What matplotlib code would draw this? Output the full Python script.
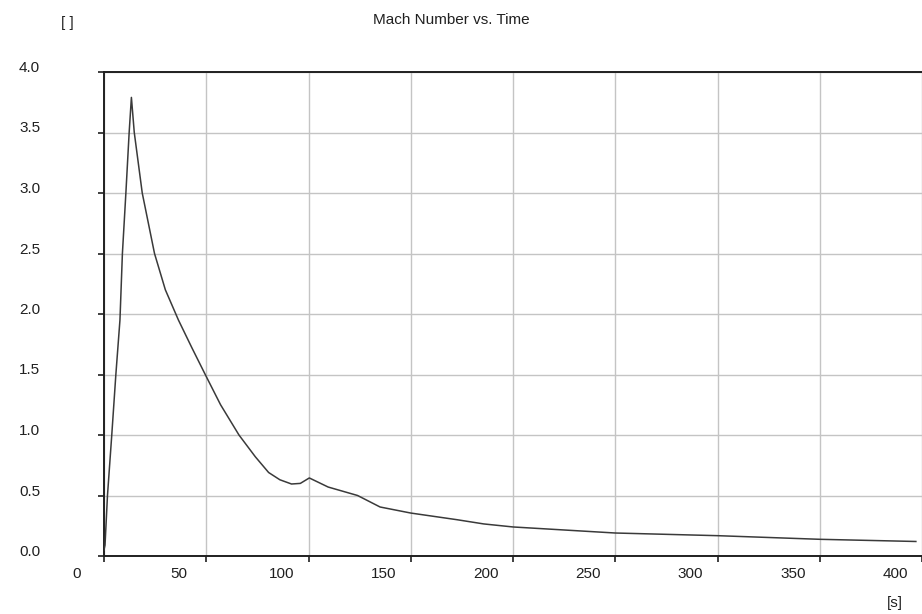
import matplotlib
matplotlib.use("Agg")
import matplotlib.pyplot as plt
from matplotlib.transforms import ScaledTranslation

time_s = [0.0, 0.5, 1.7, 3.8, 5.8, 7.8, 9.0, 10.7, 12.3, 13.4, 14.8, 18.7, 24.7,
          30.0, 36.4, 43.0, 49.5, 57.0, 66.0, 74.0, 80.5, 86.0, 91.7, 96.0, 100.4,
          109.6, 124.0, 135.0, 150.0, 172.6, 185.7, 200.0, 250.0, 300.0, 350.0, 397.0]
mach = [0.05, 0.09, 0.5, 1.0, 1.5, 1.95, 2.5, 3.0, 3.5, 3.79, 3.5, 3.0, 2.5,
        2.2, 1.95, 1.72, 1.5, 1.25, 1.0, 0.82, 0.69, 0.63, 0.595, 0.60, 0.645,
        0.57, 0.50, 0.405, 0.355, 0.30, 0.265, 0.24, 0.19, 0.168, 0.138, 0.12]

x_ticks = [0, 50, 100, 150, 200, 250, 300, 350, 400]
y_ticks = [0.0, 0.5, 1.0, 1.5, 2.0, 2.5, 3.0, 3.5, 4.0]
y_labels = ["0.0", "0.5", "1.0", "1.5", "2.0", "2.5", "3.0", "3.5", "4.0"]

plt.rcParams['font.family'] = ['Liberation Sans', 'DejaVu Sans']
FS = 11

W, H = 922, 614
fig = plt.figure(figsize=(W / 100, H / 100), dpi=100)
ax = fig.add_axes([104 / W, 1 - 556 / H, (W - 104) / W, (556 - 72) / H])

ax.plot(time_s, mach, color='#3a3a3a', lw=1.1, zorder=3)

ax.set_xlim(0, (W - 104) / 103.1 * 50)
ax.set_ylim(0, 4.0)
ax.set_xticks(x_ticks)
ax.set_yticks(y_ticks)
ax.set_yticklabels(y_labels)
ax.grid(True, color='#c4c4c4', lw=1.0, zorder=1)
ax.set_axisbelow(True)

for s in ['left', 'bottom', 'top']:
    ax.spines[s].set_color('#202020')
    ax.spines[s].set_linewidth(1.4)
ax.spines['right'].set_visible(False)

ax.tick_params(axis='x', length=4, width=1.2, color='#202020', pad=4,
               labelsize=FS, labelcolor='#202020')
ax.tick_params(axis='y', length=4, width=1.2, color='#202020', pad=42,
               labelsize=FS, labelcolor='#202020')

fig.canvas.draw()
for lab in ax.get_xticklabels():
    lab.set_transform(lab.get_transform() + ScaledTranslation(-0.27, 0, fig.dpi_scale_trans))
    lab.set_clip_on(False)
for lab in ax.get_yticklabels():
    lab.set_transform(lab.get_transform() + ScaledTranslation(0, 0.055, fig.dpi_scale_trans))

fig.text(451 / W, 1 - 20 / H, "Mach Number vs. Time", ha='center', va='center',
         fontsize=FS, color='#202020')
fig.text(67 / W, 1 - 23 / H, "[ ]", ha='center', va='center', fontsize=FS, color='#202020')
fig.text(895 / W, 1 - 603 / H, "[s]", ha='center', va='center', fontsize=FS, color='#202020')

fig.savefig("out.png", dpi=100)
